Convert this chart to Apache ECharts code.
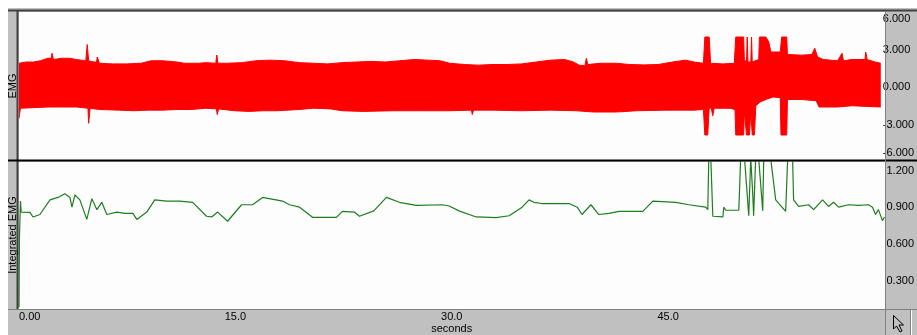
<!DOCTYPE html>
<html>
<head>
<meta charset="utf-8">
<script src="https://cdn.jsdelivr.net/npm/echarts@6/dist/echarts.min.js"></script>
<style>
  html, body { margin: 0; padding: 0; background: #fff; }
  #chart { width: 917px; height: 335px; }
</style>
</head>
<body>
<div id="chart"></div>
<script>
// EMG envelope, [seconds, mV] (top edge / bottom edge)
const emgUpper = [
  [0.0, 1.9], [0.5, 2.0], [1.0, 2.0], [1.5, 2.1], [2.0, 2.3], [2.25, 2.3], [2.3, 2.7], [2.4, 2.2],
  [3.0, 2.3], [3.5, 2.3], [4.0, 2.2], [4.65, 2.1], [4.75, 3.4], [4.85, 2.1], [5.2, 2.0], [5.4, 2.0],
  [5.45, 2.4], [5.6, 1.9], [6.5, 1.85], [7.5, 1.85], [8.5, 1.9], [9.2, 2.1], [10.0, 2.1], [11.0, 2.0],
  [11.5, 1.9], [12.5, 1.9], [13.0, 1.95], [13.7, 1.9], [13.77, 2.56], [13.85, 1.9], [14.5, 1.9],
  [15.5, 1.95], [16.5, 2.1], [17.5, 2.15], [18.5, 2.1], [19.5, 1.95], [20.5, 1.9], [21.5, 1.85],
  [22.5, 1.95], [23.5, 2.0], [24.5, 2.05], [25.5, 2.0], [26.5, 2.1], [27.5, 2.2], [28.5, 2.15],
  [29.3, 2.1], [30.0, 1.9], [31.0, 1.8], [32.0, 1.75], [33.0, 1.8], [34.0, 1.8], [35.0, 1.85],
  [36.0, 2.0], [37.0, 2.15], [38.0, 2.2], [38.6, 2.0], [39.0, 1.75], [39.4, 1.7], [39.5, 2.3],
  [39.6, 1.8], [40.5, 1.9], [41.6, 1.9], [42.5, 1.8], [43.5, 1.77], [44.5, 1.8], [45.5, 2.0],
  [46.4, 2.15], [47.0, 2.0], [47.65, 1.9], [47.75, 4.0], [48.05, 4.0], [48.15, 1.9], [49.0, 1.85],
  [49.8, 1.9], [49.9, 4.0], [50.45, 4.0], [50.5, 2.2], [50.65, 2.0], [50.7, 4.0], [50.75, 2.0],
  [50.95, 2.0], [51.0, 4.0], [51.05, 2.0], [51.5, 2.2], [51.55, 4.0], [52.0, 4.0], [52.2, 3.6],
  [52.35, 2.8], [53.0, 2.8], [53.1, 4.0], [53.45, 4.0], [53.5, 2.6], [54.5, 2.55], [55.2, 2.6],
  [55.4, 3.1], [55.6, 2.4], [56.0, 2.2], [57.0, 2.1], [57.3, 2.7], [57.4, 2.1], [58.0, 2.2],
  [58.9, 2.2], [58.95, 2.8], [59.05, 2.2], [59.6, 2.0], [60.0, 1.9]
];
const emgLower = [
  [0.0, -2.5], [0.1, -1.7], [1.0, -1.65], [2.0, -1.6], [3.0, -1.6], [4.0, -1.6], [4.8, -1.7],
  [4.85, -2.9], [4.95, -1.7], [5.6, -1.8], [7.0, -1.85], [8.0, -1.9], [9.0, -1.85], [10.0, -1.85],
  [11.0, -1.8], [12.0, -1.8], [13.0, -1.7], [13.75, -1.75], [13.8, -2.2], [13.9, -1.75], [15.0, -1.9],
  [16.0, -1.95], [17.0, -1.9], [18.0, -1.9], [19.5, -1.8], [20.5, -1.7], [21.7, -1.75], [22.5, -1.9],
  [24.0, -1.95], [26.0, -1.9], [28.0, -1.9], [30.0, -1.9], [31.5, -1.85], [31.56, -2.2], [31.65, -1.85],
  [33.0, -1.85], [35.0, -1.9], [37.0, -1.85], [38.8, -1.9], [40.0, -2.0], [41.6, -2.0], [43.0, -1.9],
  [45.0, -1.85], [47.0, -1.85], [47.65, -1.8], [47.75, -3.84], [47.95, -3.84], [48.05, -1.7],
  [48.2, -1.7], [48.3, -2.3], [48.4, -1.7], [49.5, -1.7], [49.85, -1.8], [49.9, -3.84], [50.45, -3.84],
  [50.5, -2.0], [50.6, -2.0], [50.65, -3.84], [50.85, -3.84], [50.95, -2.0], [51.0, -2.0],
  [51.05, -3.84], [51.2, -3.84], [51.3, -1.5], [51.6, -1.2], [52.0, -1.0], [52.5, -0.8], [53.0, -0.85],
  [53.05, -3.84], [53.45, -3.84], [53.5, -1.0], [54.5, -1.0], [55.5, -1.1], [55.7, -1.6], [57.0, -1.6],
  [58.0, -1.5], [59.0, -1.55], [60.0, -1.6]
];
// integrated EMG trace, [seconds, value]
const iemg = [
  [0.0, 0.08], [0.03, 0.65], [0.1, 0.95], [0.15, 0.86], [0.76, 0.857], [0.97, 0.82], [1.45, 0.84],
  [2.15, 0.96], [2.7, 0.98], [3.18, 1.01], [3.53, 0.98], [3.67, 0.9], [3.88, 1.0], [4.22, 0.96],
  [4.7, 0.8], [5.05, 0.97], [5.4, 0.88], [5.74, 0.94], [6.09, 0.84], [6.78, 0.86], [7.34, 0.85],
  [7.89, 0.85], [8.17, 0.8], [8.86, 0.86], [9.41, 0.96], [10.24, 0.95], [11.14, 0.95], [12.04, 0.94],
  [13.0, 0.826], [13.36, 0.82], [13.77, 0.86], [14.46, 0.785], [15.43, 0.92], [16.19, 0.92],
  [16.89, 0.98], [18.27, 0.95], [18.75, 0.92], [19.45, 0.9], [20.35, 0.817], [22.0, 0.817],
  [22.42, 0.866], [23.25, 0.86], [23.6, 0.826], [24.6, 0.87], [25.47, 0.98], [26.37, 0.94],
  [27.54, 0.915], [29.34, 0.92], [29.83, 0.91], [30.5, 0.87], [31.7, 0.82], [33.08, 0.815],
  [33.98, 0.83], [34.88, 0.9], [35.36, 0.96], [35.7, 0.94], [36.26, 0.93], [38.13, 0.93], [38.7, 0.9],
  [39.03, 0.84], [39.65, 0.92], [40.2, 0.84], [40.9, 0.85], [41.6, 0.866], [43.25, 0.866],
  [43.94, 0.95], [45.54, 0.94], [46.44, 0.92], [47.61, 0.9], [47.75, 0.88], [47.82, 1.3], [47.96, 1.3],
  [48.1, 0.826], [48.8, 0.82], [48.86, 0.9], [49.0, 0.875], [49.9, 0.875], [50.03, 1.3], [50.3, 1.3],
  [50.59, 0.83], [50.73, 1.3], [50.87, 1.0], [50.93, 0.83], [51.07, 1.3], [51.28, 1.3], [51.56, 0.87],
  [51.63, 1.3], [52.11, 1.3], [52.46, 0.96], [53.15, 0.866], [53.29, 1.3], [53.63, 1.3], [53.7, 0.96],
  [54.05, 0.906], [54.74, 0.92], [55.09, 0.88], [55.71, 0.96], [56.12, 0.906], [56.47, 0.94],
  [56.82, 0.9], [57.5, 0.92], [58.2, 0.915], [58.89, 0.92], [59.17, 0.9], [59.38, 0.84], [59.58, 0.88],
  [59.86, 0.79], [60.0, 0.82]
];
const emgTicks = [6, 3, 0, -3, -6];
const iemgTicks = [0.3, 0.6, 0.9, 1.2];
const timeTicks = [0, 15, 30, 45];

const FONT = 'Arial, "Liberation Sans", sans-serif';
const chart = echarts.init(document.getElementById('chart'), null, { renderer: 'canvas' });

const labelStyle = { color: '#000', fontFamily: FONT, fontSize: 11 };

chart.setOption({
  animation: false,
  backgroundColor: '#c0c0c0',
  grid: [
    { left: 19, top: 12, width: 867, height: 150 },
    { left: 19, top: 162, width: 867, height: 147 }
  ],
  xAxis: [
    { gridIndex: 0, type: 'value', min: 0, max: 60, show: false },
    {
      gridIndex: 1, type: 'value', min: 0, max: 60,
      name: 'seconds', nameLocation: 'middle', nameGap: 14,
      nameTextStyle: labelStyle,
      axisLine: { show: false }, axisTick: { show: false }, splitLine: { show: false },
      axisLabel: Object.assign({
        margin: 4, customValues: timeTicks, alignMinLabel: 'left',
        formatter: v => (v === 0 ? '0.00' : v.toFixed(1))
      }, labelStyle)
    }
  ],
  yAxis: [
    {
      gridIndex: 0, type: 'value', position: 'right', min: -6, max: 6,
      axisLine: { show: false }, axisTick: { show: false }, splitLine: { show: false },
      axisLabel: Object.assign({
        margin: 2, customValues: emgTicks, align: 'left',
        // the end labels sit inside the channel, as in the original display
        formatter: v => (v === 6 ? '{t|6.000}' : v === -6 ? '{b|-6.000}' : v.toFixed(3)),
        rich: {
          t: Object.assign({ padding: [13, 0, 0, 0] }, labelStyle),
          b: Object.assign({ padding: [0, 0, 18, 0] }, labelStyle)
        }
      }, labelStyle)
    },
    {
      gridIndex: 1, type: 'value', position: 'right', min: 0.082, max: 1.27,
      axisLine: { show: false }, axisTick: { show: false }, splitLine: { show: false },
      axisLabel: Object.assign({
        margin: 2, customValues: iemgTicks, align: 'left',
        formatter: v => v.toFixed(3)
      }, labelStyle)
    }
  ],
  graphic: [
    // white margins and plot backgrounds
    { type: 'rect', z: 0, shape: { x: 0, y: 0, width: 917, height: 8 }, style: { fill: '#fff' } },
    { type: 'rect', z: 0, shape: { x: 0, y: 0, width: 8, height: 335 }, style: { fill: '#fff' } },
    { type: 'rect', z: 0, shape: { x: 19, y: 12, width: 867, height: 148 }, style: { fill: '#fdfdfd' } },
    { type: 'rect', z: 0, shape: { x: 19, y: 162, width: 867, height: 147 }, style: { fill: '#fdfdfd' } },
    // frame lines
    { type: 'line', z: 50, shape: { x1: 8, y1: 10.5, x2: 917, y2: 10.5 }, style: { stroke: '#404040', lineWidth: 2 } },
    { type: 'line', z: 50, shape: { x1: 17.5, y1: 10, x2: 17.5, y2: 310 }, style: { stroke: '#404040', lineWidth: 2 } },
    { type: 'line', z: 50, shape: { x1: 8, y1: 160.5, x2: 917, y2: 160.5 }, style: { stroke: '#000', lineWidth: 2 } },
    { type: 'line', z: 50, shape: { x1: 8, y1: 309.5, x2: 917, y2: 309.5 }, style: { stroke: '#808080', lineWidth: 1 } },
    { type: 'line', z: 50, shape: { x1: 885.5, y1: 11, x2: 885.5, y2: 335 }, style: { stroke: '#808080', lineWidth: 1 } },
    { type: 'line', z: 50, shape: { x1: 910.5, y1: 310, x2: 910.5, y2: 335 }, style: { stroke: '#808080', lineWidth: 1 } },
    { type: 'line', z: 50, shape: { x1: 911.5, y1: 310, x2: 911.5, y2: 335 }, style: { stroke: '#fff', lineWidth: 1 } },
    // cursor tool button
    {
      type: 'polygon', z: 50, x: 893, y: 315,
      shape: { points: [[0.5, 0.5], [0.5, 14], [3.5, 11], [7, 17], [9, 16], [6, 10], [10.5, 10]] },
      style: { fill: '#c0c0c0', stroke: '#000', lineWidth: 1 }
    },
    // channel labels
    {
      type: 'text', z: 50, x: 13, y: 86, rotation: Math.PI / 2,
      style: { text: 'EMG', fill: '#000', font: '11px ' + FONT, align: 'center', verticalAlign: 'middle' }
    },
    {
      type: 'text', z: 50, x: 13, y: 235, rotation: Math.PI / 2,
      style: { text: 'Integrated EMG', fill: '#000', font: '11px ' + FONT, align: 'center', verticalAlign: 'middle' }
    }
  ],
  series: [
    {
      name: 'EMG+', type: 'line', xAxisIndex: 0, yAxisIndex: 0, data: emgUpper,
      symbol: 'none', lineStyle: { color: '#f00', width: 1 },
      areaStyle: { color: '#f00', opacity: 1, origin: 0 }
    },
    {
      name: 'EMG-', type: 'line', xAxisIndex: 0, yAxisIndex: 0, data: emgLower,
      symbol: 'none', lineStyle: { color: '#f00', width: 1 },
      areaStyle: { color: '#f00', opacity: 1, origin: 0 }
    },
    {
      name: 'Integrated EMG', type: 'line', xAxisIndex: 1, yAxisIndex: 1, data: iemg,
      symbol: 'none', lineStyle: { color: '#1e7d1e', width: 1.2 }
    }
  ]
});
</script>
</body>
</html>
